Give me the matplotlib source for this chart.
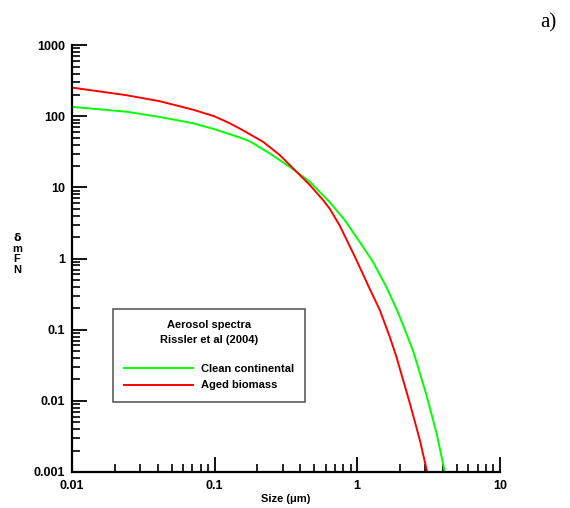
import matplotlib
matplotlib.use("Agg")
import matplotlib.pyplot as plt
from matplotlib.ticker import LogLocator, NullFormatter, FixedLocator, FixedFormatter

plt.rcParams['font.family'] = ['Liberation Sans', 'DejaVu Sans']

# values (size in um, number concentration)
size_clean = [0.01, 0.0242, 0.0414, 0.0708, 0.1, 0.128, 0.150, 0.177, 0.244, 0.337, 0.466, 0.643,
              0.819, 1.04, 1.29, 1.60, 1.90, 2.21, 2.47, 3.06, 3.60, 4.11]
n_clean = [136, 116, 98, 80, 66, 56, 50.5, 44.5, 30.1, 19.5, 12.0, 6.2,
           3.47, 1.72, 0.90, 0.40, 0.19, 0.089, 0.05, 0.012, 0.0035, 0.001]

size_aged = [0.01, 0.0242, 0.0414, 0.0708, 0.1, 0.128, 0.150, 0.177, 0.219, 0.287, 0.376, 0.466,
             0.577, 0.643, 0.755, 0.989, 1.22, 1.44, 1.69, 1.88, 2.34, 2.75, 3.09]
n_aged = [254, 198, 163, 124, 100, 80, 67.5, 56, 43.8, 28.5, 16.6, 10.8,
          6.64, 5.0, 2.9, 0.95, 0.381, 0.189, 0.0796, 0.042, 0.0092, 0.0028, 0.001]

xticks = [0.01, 0.1, 1, 10]
xtick_labels = ["0.01", "0.1", "1", "10"]
yticks = [0.001, 0.01, 0.1, 1, 10, 100, 1000]
ytick_labels = ["0.001", "0.01", "0.1", "1", "10", "100", "1000"]

fig = plt.figure(figsize=(5.7, 5.08), dpi=100)
ax = fig.add_axes([0.126, 0.071, 0.751, 0.840])

ax.plot(size_clean, n_clean, color="#00ff00", lw=1.4, label="Clean continental")
ax.plot(size_aged, n_aged, color="#ff0000", lw=1.4, label="Aged biomass")

ax.set_xscale("log")
ax.set_yscale("log")
ax.set_xlim(0.01, 10)
ax.set_ylim(0.001, 1000)

for s in ["top", "right"]:
    ax.spines[s].set_visible(False)
for s in ["left", "bottom"]:
    ax.spines[s].set_linewidth(1.6)

ax.xaxis.set_major_locator(FixedLocator(xticks))
ax.xaxis.set_major_formatter(FixedFormatter(xtick_labels))
ax.yaxis.set_major_locator(FixedLocator(yticks))
ax.yaxis.set_major_formatter(FixedFormatter(ytick_labels))
ax.xaxis.set_minor_locator(LogLocator(base=10, subs=range(2, 10)))
ax.yaxis.set_minor_locator(LogLocator(base=10, subs=range(2, 10)))
ax.xaxis.set_minor_formatter(NullFormatter())
ax.yaxis.set_minor_formatter(NullFormatter())

ax.tick_params(which="major", direction="in", length=10.5, width=1.3, labelsize=9, pad=5)
ax.tick_params(which="minor", direction="in", length=5.8, width=1.2)
ax.tick_params(axis="x", which="major", pad=6)
for lbl in ax.get_xticklabels() + ax.get_yticklabels():
    lbl.set_fontweight("bold")

ax.set_xlabel("Size (\u03bcm)", fontsize=8, fontweight="bold", labelpad=1)
fig.text(0.030, 0.50, "\u1e9f\nm\nF\nN", fontsize=8, fontweight="bold",
         ha="center", va="center", linespacing=1.05)

leg = ax.legend(title="Aerosol spectra\nRissler et al (2004)", loc="upper left",
                bbox_to_anchor=(0.096, 0.382), fontsize=8, frameon=True, fancybox=False,
                edgecolor="#333333", handlelength=6.2, borderpad=1.0, labelspacing=0.55,
                handletextpad=0.7, borderaxespad=0)
title = leg.get_title()
title.set_fontweight("bold")
title.set_fontsize(8)
title.set_multialignment("center")
title.set_linespacing(1.6)
leg._legend_box.sep = 14
for t in leg.get_texts():
    t.set_fontweight("bold")
leg.get_frame().set_linewidth(1.2)

fig.text(0.962, 0.955, "a)", fontsize=15, family="Liberation Serif", ha="center", va="center")

fig.savefig("out.png", dpi=100)
